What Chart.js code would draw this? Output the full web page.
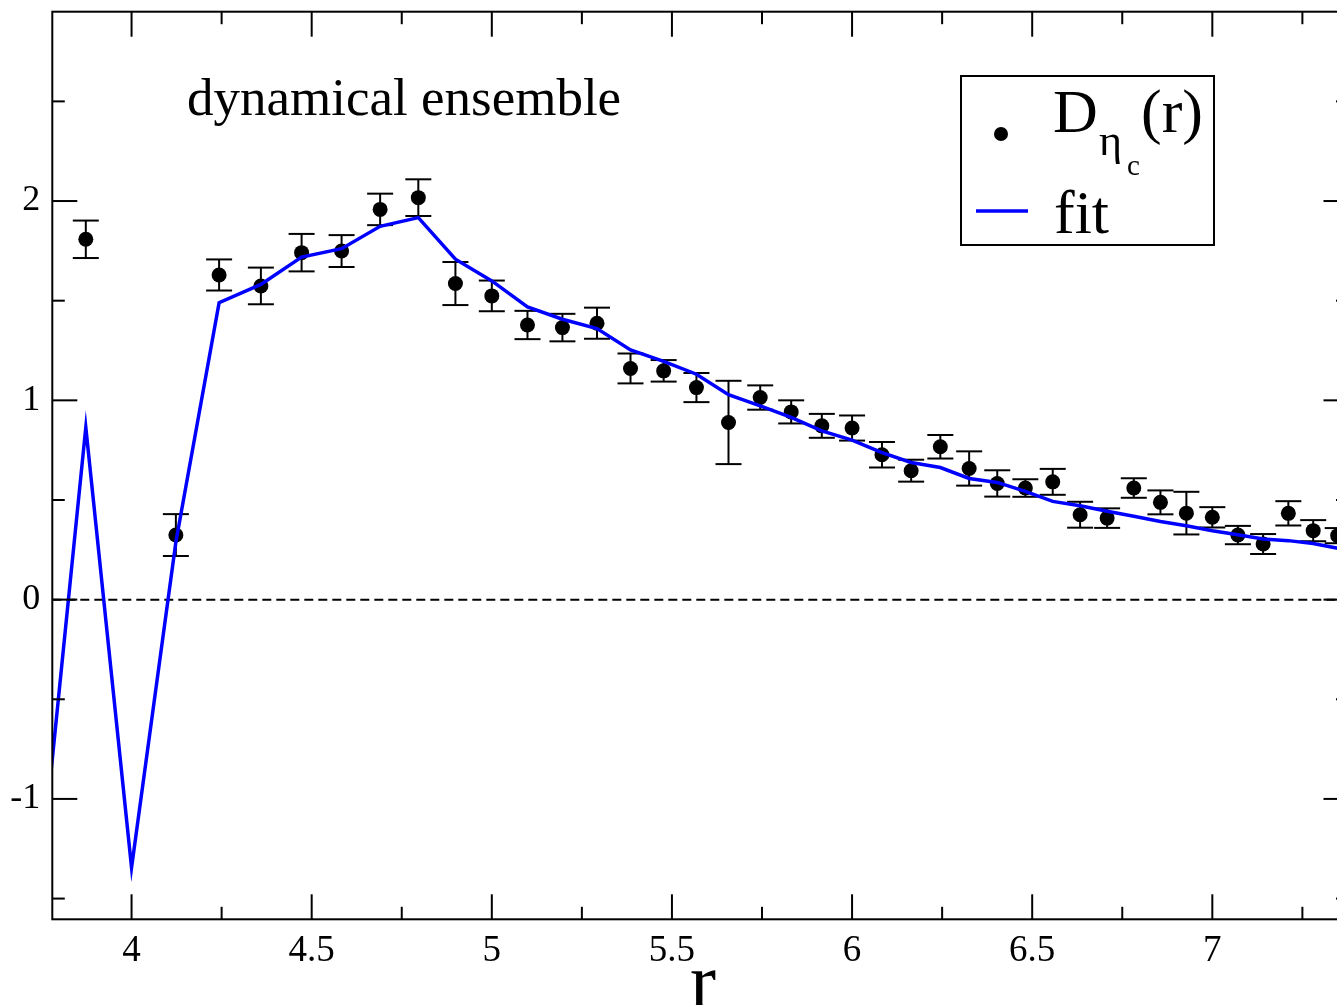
<!DOCTYPE html>
<html>
<head>
<meta charset="utf-8">
<title>dynamical ensemble</title>
<script src="https://cdn.jsdelivr.net/npm/chart.js@4"></script>
<style>
  html, body { margin: 0; padding: 0; background: #fff; overflow: hidden; }
  #wrap { width: 1356px; height: 1005px; }
</style>
</head>
<body>
<div id="wrap"><canvas id="corrChart"></canvas></div>
<script>
// data points D_eta_c(r)
let rValues = [3.873, 4.123, 4.243, 4.359, 4.472, 4.583, 4.690, 4.796, 4.899, 5.0,
  5.099, 5.196, 5.292, 5.385, 5.477, 5.568, 5.657, 5.745, 5.831, 5.916,
  6.0, 6.083, 6.164, 6.245, 6.325, 6.403, 6.481, 6.557, 6.633, 6.708,
  6.782, 6.856, 6.928, 7.0, 7.071, 7.141, 7.211, 7.280, 7.348];
let dValues = [1.808, 0.324, 1.629, 1.574, 1.741, 1.749, 1.958, 2.017, 1.586, 1.524,
  1.378, 1.365, 1.387, 1.160, 1.148, 1.064, 0.889, 1.014, 0.942, 0.872,
  0.861, 0.727, 0.647, 0.767, 0.658, 0.583, 0.560, 0.591, 0.426, 0.409,
  0.560, 0.488, 0.434, 0.413, 0.324, 0.279, 0.433, 0.346, 0.321];
let dErrors = [0.094, 0.105, 0.078, 0.092, 0.094, 0.080, 0.079, 0.092, 0.108, 0.077,
  0.071, 0.069, 0.078, 0.075, 0.054, 0.073, 0.209, 0.061, 0.058, 0.060,
  0.063, 0.064, 0.055, 0.059, 0.086, 0.066, 0.044, 0.065, 0.065, 0.049,
  0.049, 0.060, 0.107, 0.051, 0.046, 0.050, 0.061, 0.053, 0.038];

// fit curve
let fitR = [3.742, 3.873, 4.0, 4.123, 4.243, 4.359, 4.472, 4.583, 4.690, 4.796,
  4.899, 5.0, 5.099, 5.196, 5.292, 5.385, 5.477, 5.568, 5.657, 5.745,
  5.831, 5.916, 6.0, 6.083, 6.164, 6.245, 6.325, 6.403, 6.481, 6.557,
  6.633, 6.708, 6.782, 6.856, 6.928, 7.0, 7.071, 7.141, 7.211, 7.280,
  7.348, 7.416];
let fitValues = [-1.48, 0.864, -1.345, 0.289, 1.490, 1.582, 1.719, 1.761, 1.873, 1.917,
  1.708, 1.599, 1.469, 1.407, 1.360, 1.253, 1.195, 1.131, 1.028, 0.972,
  0.914, 0.847, 0.800, 0.738, 0.688, 0.663, 0.608, 0.588, 0.543, 0.493,
  0.471, 0.443, 0.418, 0.392, 0.371, 0.346, 0.326, 0.304, 0.296, 0.282,
  0.258, 0.235];

// ticks
let xTicks = [4, 4.5, 5, 5.5, 6, 6.5, 7];
let xTickLabels = ['4', '4.5', '5', '5.5', '6', '6.5', '7'];
let xMinorTicks = [4.25, 4.75, 5.25, 5.75, 6.25, 6.75, 7.25];
let yTicks = [-1, 0, 1, 2];
let yTickLabels = ['-1', '0', '1', '2'];
let yMinorTicks = [-1.5, -0.5, 0.5, 1.5, 2.5];

let serif = '"Liberation Serif", "DejaVu Serif", serif';

function line(ctx, x1, y1, x2, y2) {
  ctx.beginPath();
  ctx.moveTo(x1, y1);
  ctx.lineTo(x2, y2);
  ctx.stroke();
}

// zero line + error bars, under the data
let underlay = {
  id: 'underlay',
  beforeDatasetsDraw(chart) {
    let ctx = chart.ctx;
    let ca = chart.chartArea;
    let xs = chart.scales.x;
    let ys = chart.scales.y;
    ctx.save();
    ctx.strokeStyle = '#000';
    ctx.lineWidth = 2;
    ctx.setLineDash([9, 5]);
    let y0 = ys.getPixelForValue(0);
    line(ctx, ca.left, y0, ca.right, y0);
    ctx.setLineDash([]);
    for (let i = 0; i < rValues.length; i++) {
      let px = xs.getPixelForValue(rValues[i]);
      let top = ys.getPixelForValue(dValues[i] + dErrors[i]);
      let bot = ys.getPixelForValue(dValues[i] - dErrors[i]);
      line(ctx, px, top, px, bot);
      line(ctx, px - 13, top, px + 13, top);
      line(ctx, px - 13, bot, px + 13, bot);
    }
    ctx.restore();
  }
};

// frame, inward ticks, texts and legend
let overlay = {
  id: 'overlay',
  afterDraw(chart) {
    let ctx = chart.ctx;
    let ca = chart.chartArea;
    let xs = chart.scales.x;
    let ys = chart.scales.y;
    ctx.save();
    ctx.strokeStyle = '#000';
    ctx.lineWidth = 2;
    ctx.strokeRect(ca.left, ca.top, ca.right - ca.left, ca.bottom - ca.top);
    xTicks.forEach(function (v) {
      let px = xs.getPixelForValue(v);
      line(ctx, px, ca.bottom, px, ca.bottom - 25);
      line(ctx, px, ca.top, px, ca.top + 25);
    });
    xMinorTicks.forEach(function (v) {
      let px = xs.getPixelForValue(v);
      line(ctx, px, ca.bottom, px, ca.bottom - 12.5);
      line(ctx, px, ca.top, px, ca.top + 12.5);
    });
    yTicks.forEach(function (v) {
      let py = ys.getPixelForValue(v);
      line(ctx, ca.left, py, ca.left + 25, py);
      line(ctx, ca.right, py, ca.right - 25, py);
    });
    yMinorTicks.forEach(function (v) {
      let py = ys.getPixelForValue(v);
      line(ctx, ca.left, py, ca.left + 12.5, py);
      line(ctx, ca.right, py, ca.right - 12.5, py);
    });

    ctx.fillStyle = '#000';
    ctx.textBaseline = 'alphabetic';
    ctx.textAlign = 'left';
    ctx.font = '53px ' + serif;
    ctx.fillText('dynamical ensemble', 187, 115);

    // axis title
    ctx.textAlign = 'center';
    ctx.font = '78px ' + serif;
    ctx.fillText('r', 703, 1007);

    // legend
    ctx.textAlign = 'left';
    ctx.fillStyle = '#fff';
    ctx.fillRect(961, 76, 253, 169);
    ctx.strokeRect(961, 76, 253, 169);
    ctx.fillStyle = '#000';
    ctx.beginPath();
    ctx.arc(1001, 134, 7, 0, Math.PI * 2);
    ctx.fill();
    ctx.font = '62px ' + serif;
    ctx.fillText('D', 1053, 132);
    ctx.font = '44px ' + serif;
    ctx.fillText('η', 1099, 155);
    ctx.font = '29px ' + serif;
    ctx.fillText('c', 1127, 175);
    ctx.font = '62px ' + serif;
    ctx.fillText('(r)', 1141, 132);
    ctx.strokeStyle = '#0000ff';
    ctx.lineWidth = 3.5;
    line(ctx, 976, 211, 1028, 211);
    ctx.fillText('fit', 1054, 233);
    ctx.restore();
  }
};

let chart = new Chart(document.querySelector('#corrChart'), {
  type: 'scatter',
  data: {
    datasets: [{
      label: 'fit',
      data: fitR.map(function (r, i) { return { x: r, y: fitValues[i] }; }),
      showLine: true,
      borderColor: '#0000ff',
      borderWidth: 3.5,
      pointRadius: 0,
      fill: false,
      clip: 0
    }, {
      label: 'D',
      data: rValues.map(function (r, i) { return { x: r, y: dValues[i] }; }),
      showLine: false,
      pointRadius: 7.5,
      pointBackgroundColor: '#000',
      pointBorderWidth: 0,
      clip: 0
    }]
  },
  options: {
    responsive: true,
    maintainAspectRatio: false,
    devicePixelRatio: 1,
    animation: false,
    events: [],
    layout: { padding: { top: 11.7, right: 3, left: 0, bottom: 0 } },
    plugins: { legend: { display: false }, tooltip: { enabled: false } },
    scales: {
      x: {
        type: 'linear',
        min: 3.780,
        max: 7.378,
        grid: { display: false, drawTicks: false },
        border: { display: false },
        afterFit: function (scale) {
          scale.height = 85.7;
          scale.paddingLeft = 0;
          scale.paddingRight = 0;
        },
        afterBuildTicks: function (scale) {
          scale.ticks = xTicks.map(function (v) { return { value: v }; });
        },
        ticks: {
          padding: 10,
          color: '#000',
          font: { family: serif, size: 37 },
          callback: function (v, i) { return xTickLabels[i]; }
        }
      },
      y: {
        type: 'linear',
        min: -1.604,
        max: 2.95,
        grid: { display: false, drawTicks: false },
        border: { display: false },
        afterFit: function (scale) {
          scale.width = 52.3;
          scale.paddingTop = 0;
          scale.paddingBottom = 0;
        },
        afterBuildTicks: function (scale) {
          scale.ticks = yTicks.map(function (v) { return { value: v }; });
        },
        ticks: {
          padding: 12,
          color: '#000',
          font: { family: serif, size: 36 },
          callback: function (v, i) { return yTickLabels[i]; }
        }
      }
    }
  },
  plugins: [underlay, overlay]
});
</script>
</body>
</html>
